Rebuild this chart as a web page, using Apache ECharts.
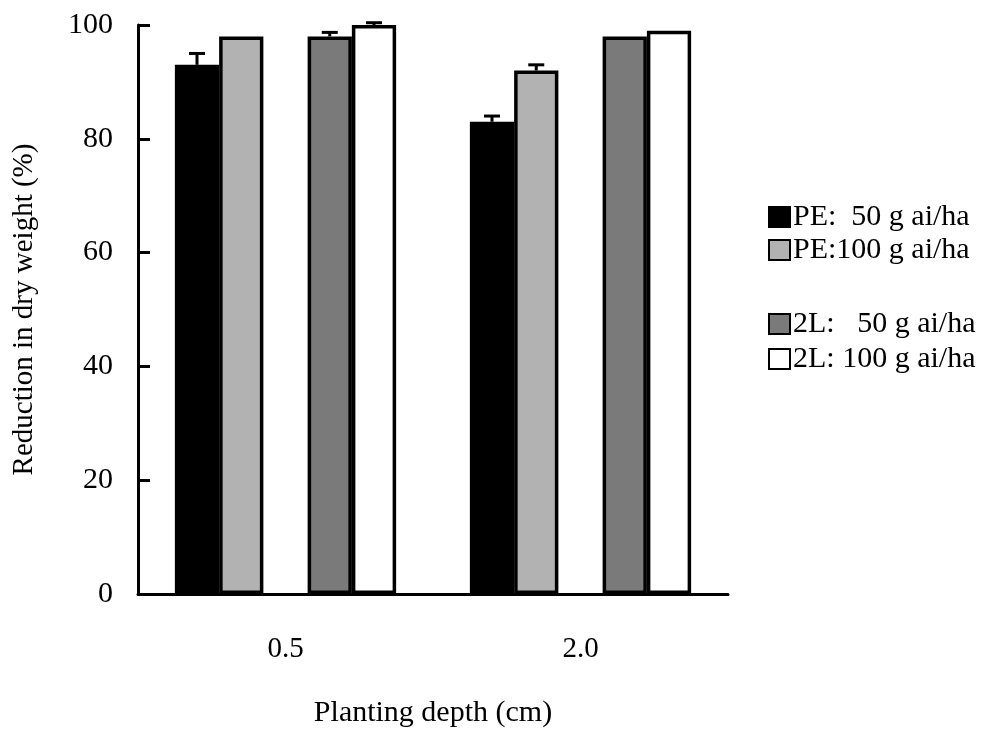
<!DOCTYPE html>
<html>
<head>
<meta charset="utf-8">
<script src="https://cdn.jsdelivr.net/npm/echarts@6/dist/echarts.min.js"></script>
<style>
  html, body { margin: 0; padding: 0; background: #fff; }
  #chart { width: 987px; height: 733px; }
</style>
</head>
<body>
<div id="chart"></div>
<script>
// Planting depth categories (cm)
const categories = ['0.5', '2.0'];

// Reduction in dry weight (%) per treatment
const pe50 = [93, 83];
const pe100 = [98, 92];
const l2_50 = [98, 98];
const l2_100 = [100, 99];

// Upper error bar lengths (%)
const pe50Err = [2, 1];
const pe100Err = [0, 1];
const l2_50Err = [0.7, 0];
const l2_100Err = [0.4, 0];

const yTicks = [0, 20, 40, 60, 80, 100];

const SERIF = '"Liberation Serif", "DejaVu Serif", serif';
const SLOTS = 5;
const CAT_GAP = 0.25;

function errorSeries(values, errs, slot) {
  return {
    type: 'custom',
    silent: true,
    z: 5,
    data: values.map((v, i) => [i, v, errs[i]]),
    renderItem: function (params, api) {
      const cat = api.value(0);
      const v = api.value(1);
      const e = api.value(2);
      if (!e) return null;
      const base = api.coord([cat, v]);
      const top = api.coord([cat, v + e]);
      const band = api.size([1, 0])[0];
      const slotW = band * (1 - CAT_GAP) / SLOTS;
      const x = base[0] + (slot - (SLOTS - 1) / 2) * slotW;
      const style = { stroke: '#000', lineWidth: 3 };
      return {
        type: 'group',
        children: [
          { type: 'line', shape: { x1: x, y1: base[1], x2: x, y2: top[1] }, style: style },
          { type: 'line', shape: { x1: x - 8, y1: top[1], x2: x + 8, y2: top[1] }, style: style }
        ]
      };
    }
  };
}

function barSeries(name, values, color) {
  return {
    name: name,
    type: 'bar',
    data: values,
    barGap: '0%',
    barCategoryGap: (CAT_GAP * 100) + '%',
    itemStyle: { color: color, borderColor: '#000', borderWidth: 3.5 }
  };
}

const legendText = { fontFamily: SERIF, fontSize: 30, color: '#000' };

const chart = echarts.init(document.getElementById('chart'));
chart.setOption({
  backgroundColor: '#fff',
  animation: false,
  grid: { left: 138, right: 259, top: 25, bottom: 131, containLabel: false },
  legend: [
    {
      data: ['PE:  50 g ai/ha', 'PE:100 g ai/ha'],
      orient: 'vertical',
      left: 763,
      top: 197,
      icon: 'rect',
      itemWidth: 21,
      itemHeight: 20,
      itemGap: 3,
      textStyle: Object.assign({ padding: [0, 0, 0, -2] }, legendText)
    },
    {
      data: ['2L:   50 g ai/ha', '2L: 100 g ai/ha'],
      orient: 'vertical',
      left: 763,
      top: 304,
      icon: 'rect',
      itemWidth: 21,
      itemHeight: 20,
      itemGap: 5,
      textStyle: Object.assign({ padding: [0, 0, 0, -2] }, legendText)
    }
  ],
  xAxis: {
    type: 'category',
    data: categories,
    name: 'Planting depth (cm)',
    nameLocation: 'middle',
    nameGap: 104,
    nameTextStyle: { fontFamily: SERIF, fontSize: 30, color: '#000' },
    axisLine: { lineStyle: { color: '#000', width: 3 } },
    axisTick: { inside: true, length: 10, lineStyle: { color: '#000', width: 3 } },
    axisLabel: { fontFamily: SERIF, fontSize: 29, color: '#000', margin: 41 }
  },
  yAxis: {
    type: 'value',
    min: 0,
    max: 100,
    interval: 20,
    name: 'Reduction in dry weight (%)',
    nameLocation: 'middle',
    nameGap: 99,
    nameTextStyle: { fontFamily: SERIF, fontSize: 29, color: '#000' },
    axisLine: { show: true, lineStyle: { color: '#000', width: 3 } },
    axisTick: { show: true, inside: true, length: 12, lineStyle: { color: '#000', width: 3 } },
    splitLine: { show: false },
    axisLabel: {
      fontFamily: SERIF, fontSize: 30, color: '#000', margin: 25,
      formatter: v => (yTicks.indexOf(v) >= 0 ? String(v) : '')
    }
  },
  series: [
    barSeries('PE:  50 g ai/ha', pe50, '#000000'),
    barSeries('PE:100 g ai/ha', pe100, '#b2b2b2'),
    { name: 'spacer', type: 'bar', data: [0, 0], barGap: '0%', itemStyle: { color: 'transparent' }, silent: true },
    barSeries('2L:   50 g ai/ha', l2_50, '#7a7a7a'),
    barSeries('2L: 100 g ai/ha', l2_100, '#ffffff'),
    errorSeries(pe50, pe50Err, 0),
    errorSeries(pe100, pe100Err, 1),
    errorSeries(l2_50, l2_50Err, 3),
    errorSeries(l2_100, l2_100Err, 4)
  ]
});
</script>
</body>
</html>
